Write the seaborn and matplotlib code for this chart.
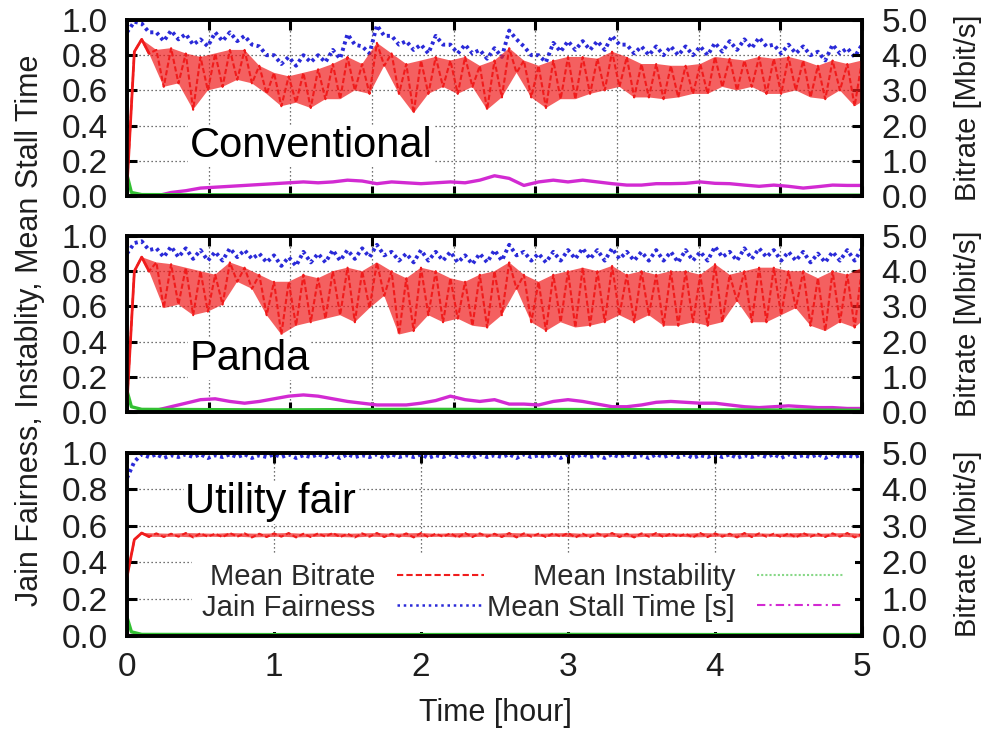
import numpy as np
import matplotlib.pyplot as plt
import seaborn as sns
from matplotlib.lines import Line2D
from matplotlib.ticker import FormatStrFormatter

# time axis in hours, one reading every 6 minutes
t = np.linspace(0, 5, 51)

# ---- Conventional ----
# mean bitrate [Mbit/s]: band top (at t) and band bottom (at t + 3 min)
conv_rate_hi = [0.25, 4.45, 4.15, 4.2, 4.05, 3.95, 4.05, 4.15, 4.15, 3.7,
                3.5, 3.4, 3.5, 3.6, 3.75, 3.95, 3.75, 4.35, 4.05, 3.75,
                3.85, 3.95, 3.85, 3.95, 3.7, 3.85, 4.2, 3.85, 3.7, 3.85,
                3.95, 3.95, 3.9, 4.1, 3.95, 3.75, 3.75, 3.7, 3.7, 3.75,
                3.95, 3.9, 3.85, 3.95, 3.9, 3.95, 3.85, 3.7, 3.85, 3.75, 3.85]
conv_rate_lo = [4.1, 4.05, 3.1, 3.2, 2.45, 3.0, 3.1, 3.3, 3.2, 2.9,
                2.55, 2.65, 2.5, 2.75, 2.75, 3.0, 2.9, 3.7, 2.9, 2.35,
                2.9, 3.1, 2.9, 3.1, 2.45, 2.8, 3.5, 2.8, 2.5, 2.75,
                2.75, 2.9, 3.0, 3.1, 2.8, 2.8, 2.75, 2.8, 2.9, 2.9,
                3.1, 3.0, 3.1, 2.9, 2.9, 3.0, 2.8, 2.75, 3.0, 2.55, 2.8]
conv_fair_hi = [0.93, 0.98, 0.93, 0.94, 0.92, 0.89, 0.93, 0.93, 0.91, 0.85,
                0.80, 0.79, 0.80, 0.80, 0.83, 0.92, 0.85, 0.97, 0.91, 0.88,
                0.86, 0.91, 0.86, 0.86, 0.83, 0.84, 0.94, 0.85, 0.80, 0.87,
                0.88, 0.88, 0.88, 0.91, 0.86, 0.85, 0.85, 0.85, 0.85, 0.85,
                0.87, 0.88, 0.89, 0.90, 0.86, 0.86, 0.85, 0.82, 0.86, 0.84, 0.86]
conv_fair_lo = [0.99, 0.93, 0.88, 0.89, 0.86, 0.85, 0.88, 0.88, 0.86, 0.80,
                0.75, 0.74, 0.76, 0.76, 0.78, 0.86, 0.81, 0.91, 0.86, 0.83,
                0.81, 0.86, 0.81, 0.81, 0.78, 0.79, 0.89, 0.80, 0.76, 0.82,
                0.83, 0.83, 0.83, 0.86, 0.81, 0.80, 0.80, 0.80, 0.80, 0.80,
                0.82, 0.83, 0.84, 0.85, 0.81, 0.81, 0.80, 0.77, 0.81, 0.79, 0.81]
conv_stall = [0.0, 0.0, 0.0, 0.02, 0.03, 0.045, 0.05, 0.055, 0.06, 0.065,
              0.07, 0.075, 0.08, 0.075, 0.08, 0.09, 0.085, 0.07, 0.08, 0.075,
              0.07, 0.075, 0.08, 0.075, 0.09, 0.115, 0.10, 0.06, 0.08, 0.09,
              0.08, 0.09, 0.08, 0.07, 0.062, 0.062, 0.07, 0.07, 0.072, 0.08,
              0.072, 0.07, 0.062, 0.055, 0.062, 0.055, 0.045, 0.053, 0.062, 0.06, 0.06]
conv_inst_t = [0, 0.03, 0.1, 1, 2, 3, 4, 5]
conv_inst = [0.12, 0.02, 0.008, 0.006, 0.005, 0.006, 0.005, 0.005]

# ---- Panda ----
panda_rate_hi = [0.25, 4.4, 4.25, 4.2, 4.1, 4.0, 3.9, 4.25, 4.1, 3.9,
                 3.7, 3.7, 3.9, 3.8, 4.0, 4.1, 4.0, 4.25, 4.0, 3.8,
                 4.1, 4.0, 3.8, 3.7, 3.9, 4.0, 4.25, 3.9, 3.7, 3.9,
                 4.0, 4.1, 4.0, 4.15, 3.9, 4.0, 3.9, 4.0, 4.0, 3.9,
                 4.2, 3.9, 4.0, 4.1, 4.1, 4.0, 4.0, 3.8, 4.0, 3.9, 4.1]
panda_rate_lo = [4.0, 4.0, 2.95, 3.05, 2.75, 2.85, 3.05, 3.7, 3.5, 2.75,
                 2.2, 2.45, 2.55, 2.65, 2.75, 2.55, 2.95, 3.3, 2.2, 2.3,
                 2.75, 2.55, 2.65, 2.45, 2.4, 2.75, 3.5, 2.55, 2.3, 2.55,
                 2.4, 2.45, 2.55, 2.75, 2.55, 2.75, 2.45, 2.45, 2.55, 2.45,
                 2.55, 3.15, 2.55, 2.55, 2.75, 2.95, 2.45, 2.3, 2.55, 2.4, 2.75]
panda_fair_hi = [0.90, 0.97, 0.93, 0.94, 0.93, 0.92, 0.91, 0.93, 0.92, 0.90,
                 0.89, 0.88, 0.91, 0.90, 0.92, 0.92, 0.93, 0.95, 0.91, 0.90,
                 0.92, 0.91, 0.91, 0.89, 0.90, 0.92, 0.95, 0.91, 0.90, 0.91,
                 0.92, 0.93, 0.92, 0.93, 0.91, 0.91, 0.92, 0.91, 0.92, 0.91,
                 0.94, 0.91, 0.93, 0.93, 0.92, 0.91, 0.91, 0.90, 0.91, 0.92, 0.93]
panda_fair_lo = [0.96, 0.92, 0.88, 0.88, 0.87, 0.86, 0.86, 0.88, 0.87, 0.85,
                 0.83, 0.83, 0.85, 0.85, 0.86, 0.87, 0.88, 0.89, 0.86, 0.85,
                 0.86, 0.86, 0.85, 0.84, 0.85, 0.86, 0.89, 0.86, 0.85, 0.86,
                 0.87, 0.87, 0.86, 0.87, 0.86, 0.86, 0.86, 0.85, 0.86, 0.86,
                 0.88, 0.86, 0.87, 0.88, 0.86, 0.86, 0.85, 0.85, 0.86, 0.86, 0.87]
panda_stall = [0.0, 0.0, 0.01, 0.03, 0.05, 0.07, 0.075, 0.06, 0.05, 0.06,
               0.075, 0.09, 0.097, 0.09, 0.075, 0.06, 0.05, 0.04, 0.04, 0.04,
               0.05, 0.065, 0.09, 0.07, 0.06, 0.07, 0.045, 0.045, 0.04, 0.06,
               0.07, 0.06, 0.045, 0.03, 0.03, 0.04, 0.055, 0.06, 0.055, 0.05,
               0.05, 0.04, 0.03, 0.025, 0.03, 0.035, 0.03, 0.025, 0.025, 0.02, 0.02]
panda_inst_t = [0, 0.03, 0.1, 1, 2, 3, 4, 5]
panda_inst = [0.12, 0.03, 0.015, 0.012, 0.015, 0.014, 0.012, 0.01]

# ---- Utility fair ----
util_rate_hi = [1.6, 2.8, 2.79, 2.78, 2.8, 2.79, 2.78, 2.8, 2.79, 2.78,
                2.79, 2.8, 2.78, 2.79, 2.8, 2.78, 2.79, 2.8, 2.78, 2.79,
                2.8, 2.78, 2.79, 2.8, 2.79, 2.78, 2.8, 2.79, 2.78, 2.79,
                2.8, 2.78, 2.79, 2.8, 2.78, 2.79, 2.8, 2.79, 2.78, 2.8,
                2.79, 2.78, 2.8, 2.79, 2.78, 2.79, 2.8, 2.78, 2.79, 2.8, 2.78]
util_rate_lo = [2.62, 2.7, 2.69, 2.7, 2.68, 2.7, 2.69, 2.7, 2.68, 2.69,
                2.7, 2.68, 2.69, 2.7, 2.69, 2.68, 2.7, 2.69, 2.7, 2.68,
                2.69, 2.7, 2.68, 2.69, 2.7, 2.69, 2.68, 2.7, 2.69, 2.7,
                2.68, 2.69, 2.7, 2.69, 2.68, 2.7, 2.69, 2.7, 2.68, 2.69,
                2.7, 2.68, 2.69, 2.7, 2.69, 2.68, 2.7, 2.69, 2.7, 2.68, 2.69]
util_fair_hi = [0.86, 0.99, 0.99, 0.985, 0.99, 0.99, 0.985, 0.99, 0.99, 0.985,
                0.99, 0.99, 0.985, 0.99, 0.99, 0.99, 0.985, 0.99, 0.99, 0.985,
                0.99, 0.985, 0.99, 0.99, 0.99, 0.985, 0.99, 0.99, 0.985, 0.99,
                0.99, 0.99, 0.985, 0.99, 0.99, 0.985, 0.99, 0.99, 0.99, 0.985,
                0.99, 0.99, 0.985, 0.99, 0.99, 0.99, 0.985, 0.99, 0.99, 0.985, 0.99]
util_fair_lo = [0.95, 0.975, 0.97, 0.975, 0.975, 0.97, 0.975, 0.975, 0.97, 0.975,
                0.975, 0.97, 0.975, 0.975, 0.97, 0.975, 0.975, 0.97, 0.975, 0.975,
                0.97, 0.975, 0.975, 0.97, 0.975, 0.975, 0.97, 0.975, 0.975, 0.97,
                0.975, 0.975, 0.97, 0.975, 0.975, 0.97, 0.975, 0.975, 0.97, 0.975,
                0.975, 0.97, 0.975, 0.975, 0.97, 0.975, 0.975, 0.97, 0.975, 0.975, 0.97]
util_stall_t = [0, 1, 2, 3, 4, 5]
util_stall = [0.0, 0.002, 0.002, 0.001, 0.002, 0.002]
util_inst_t = [0, 0.03, 0.1, 1, 2, 3, 4, 5]
util_inst = [0.1, 0.02, 0.006, 0.005, 0.005, 0.006, 0.005, 0.005]

panels = [
    ("Conventional", conv_rate_hi, conv_rate_lo, conv_fair_hi, conv_fair_lo,
     t, conv_stall, conv_inst_t, conv_inst, 0.222),
    ("Panda", panda_rate_hi, panda_rate_lo, panda_fair_hi, panda_fair_lo,
     t, panda_stall, panda_inst_t, panda_inst, 0.239),
    ("Utility fair", util_rate_hi, util_rate_lo, util_fair_hi, util_fair_lo,
     util_stall_t, util_stall, util_inst_t, util_inst, 0.668),
]

RED, BLUE, GREEN, MAGENTA = "#f01c1c", "#2a2ad8", "#33c033", "#d22ad2"
TXT = "#1e1e1e"

sns.set_theme(style="white")
plt.rcParams["font.family"] = ["Liberation Sans", "DejaVu Sans"]


def zigzag(hi, lo):
    # band top at t, band bottom half a step later
    x = np.empty(2 * len(t))
    y = np.empty(2 * len(t))
    x[0::2], x[1::2] = t, t + 0.05
    y[0::2], y[1::2] = hi, lo
    return x, y


fig = plt.figure(figsize=(9.92, 7.32), dpi=100)
left, width = 127 / 992, 735 / 992
frames = [(20, 196), (236, 412), (452.5, 635.5)]  # pixel top / bottom

for i, (name, r_hi, r_lo, f_hi, f_lo, s_t, stall, i_t, inst, ty) in enumerate(panels):
    top, bot = frames[i]
    ax = fig.add_axes([left, 1 - bot / 732, width, (bot - top) / 732])
    ax2 = ax.twinx()

    # fairness / instability / stall on the left axis
    fx, fy = zigzag(f_hi, f_lo)
    sns.lineplot(x=fx, y=fy, ax=ax, sort=False, estimator=None, color=BLUE,
                 linestyle=(0, (0.8, 0.9)), linewidth=2.8)
    sns.lineplot(x=s_t, y=stall, ax=ax, sort=False, estimator=None, color=MAGENTA,
                 linestyle="-", linewidth=2.4)
    sns.lineplot(x=i_t, y=inst, ax=ax, sort=False, estimator=None, color=GREEN,
                 linestyle="-", linewidth=2.4)

    # bitrate on the right axis: shaded band between the tops and bottoms,
    # with the raw zigzag drawn over it
    rx, ry = zigzag(r_hi, r_lo)
    band_x = np.concatenate([t[1:], (t[1:] + 0.05)[::-1]])
    band_y = np.concatenate([r_hi[1:], r_lo[1:][::-1]])
    ax2.fill(band_x, band_y, color=RED, alpha=0.7, linewidth=0)
    sns.lineplot(x=rx, y=ry, ax=ax2, sort=False, estimator=None, color=RED,
                 linestyle=(0, (2.5, 1.2)), linewidth=1.5)
    sns.lineplot(x=rx[:4], y=ry[:4], ax=ax2, sort=False, estimator=None, color=RED,
                 linestyle="-", linewidth=2.0)

    ax.set_xlim(0, 5)
    ax.set_ylim(0, 1)
    ax2.set_ylim(0, 5)
    ax.set_yticks(np.arange(0, 1.01, 0.2))
    ax2.set_yticks(np.arange(0, 5.01, 1.0))
    ax.yaxis.set_major_formatter(FormatStrFormatter("%.1f"))
    ax2.yaxis.set_major_formatter(FormatStrFormatter("%.1f"))
    if i < 2:
        ax.set_xticks(np.arange(0, 18001, 2000) / 3600)
        ax.tick_params(axis="x", labelbottom=False)
    else:
        ax.set_xticks(range(6))
    ax.set_xlabel("")
    ax.set_ylabel("")
    ax2.set_ylabel("")

    ax.grid(True, color="#444444", linestyle=(0, (1, 2.2)), linewidth=0.9)
    ax.tick_params(axis="both", direction="in", length=7, width=2.2, colors="black",
                   labelcolor=TXT, labelsize=24, left=True, bottom=True, top=True,
                   right=False)
    ax.tick_params(axis="y", pad=14)
    ax.tick_params(axis="x", pad=12)
    ax2.tick_params(axis="y", direction="in", length=7, width=2.2, colors="black",
                    labelcolor=TXT, labelsize=24, right=True, left=False, pad=14)
    for a in (ax, ax2):
        for sp in a.spines.values():
            sp.set_linewidth(2.6)
            sp.set_color("black")

    ax2.text(0.079 if i == 2 else 0.085, ty, name, transform=ax.transAxes,
             fontsize=30, color="black", va="baseline", ha="left", zorder=5,
             bbox=dict(facecolor="white", edgecolor="none", pad=1))

    fig.text(0.976, 1 - (top + bot) / 2 / 732, "Bitrate [Mbit/s]", rotation=90,
             ha="center", va="center", fontsize=21, color=TXT)

    if i == 2:
        handles = [
            Line2D([], [], color=RED, linestyle=(0, (3, 1.5)), linewidth=1.5),
            Line2D([], [], color=BLUE, linestyle=(0, (1, 1.5)), linewidth=1.8),
            Line2D([], [], color="#88d888", linestyle=(0, (1, 1)), linewidth=1.5),
            Line2D([], [], color=MAGENTA, linestyle=(0, (4, 2, 1, 2)), linewidth=1.5),
        ]
        labels = ["Mean Bitrate", "Jain Fairness", "Mean Instability",
                  "Mean Stall Time [s]"]
        leg = ax2.legend(handles, labels, ncol=2, markerfirst=False,
                         loc="lower right", bbox_to_anchor=(0.99, 0.02),
                         fontsize=21, frameon=True, framealpha=1,
                         facecolor="white", edgecolor="none", fancybox=False,
                         handlelength=3.0, handletextpad=0.75, columnspacing=0.1,
                         labelspacing=0.1, borderpad=0.35, borderaxespad=0.0)
        for txt in leg.get_texts():
            txt.set_color("#2a2a2a")

fig.text(0.030, 1 - 330 / 732, "Jain Fairness, Instablity, Mean Stall Time",
         rotation=90, ha="center", va="center", fontsize=22, color=TXT)
fig.text(0.499, 1 - 713 / 732, "Time [hour]", ha="center", va="center",
         fontsize=22, color=TXT)

fig.savefig("out.png", dpi=100, facecolor="white")
